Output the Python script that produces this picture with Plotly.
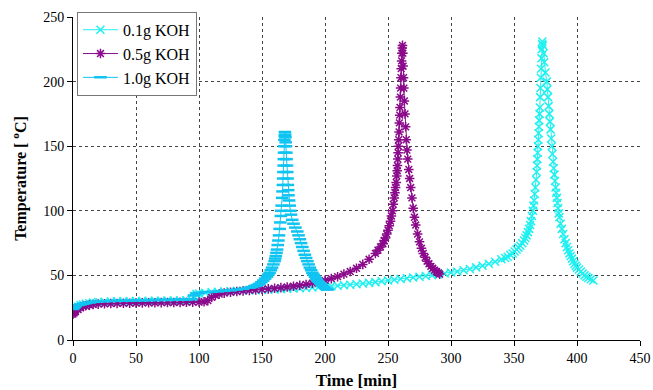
import plotly.graph_objects as go

# 0.1g KOH
t01 = [0, 1, 2, 4, 6, 8, 10, 13, 16, 20, 25, 30, 35, 40, 45, 50, 55, 60, 65, 70, 75, 80, 85, 90, 94, 96, 98,
       100, 105, 110, 115, 120, 125, 130, 135, 140, 145, 150, 155, 160, 165, 170, 175, 180, 185, 190, 195,
       200, 205, 210, 215, 220, 225, 230, 235, 240, 245, 250, 255, 260, 265, 270, 275, 280, 285, 290, 295,
       300, 305, 310, 315, 320, 325, 330, 335, 340, 343, 345, 347, 349, 350.5, 352, 353.5, 355, 356.5, 358,
       359, 360, 361, 362, 362.8, 363.5, 364.2, 365, 365.5, 366, 366.5, 367, 367.5, 368, 368.3, 368.5, 368.8,
       369, 369.3, 369.5, 369.8, 370, 370.3, 370.5, 370.8, 371, 371.3, 371.5, 371.8, 372, 372.3, 372.5,
       373, 373.5, 374, 375, 376, 376.5, 377, 377.5, 378, 378.5, 379, 379.5, 380, 380.5, 381, 381.5, 382,
       382.5, 383, 383.5, 384, 384.5, 385, 385.5, 386, 387, 388, 389, 390, 391, 392, 393, 394, 395, 396, 397,
       398, 399, 400, 401.5, 403, 404.5, 406, 407.5, 409, 411, 413]
T01 = [23, 24, 25, 26, 27, 27.5, 28, 28.5, 29, 29.3, 29.6, 29.8, 30, 30, 30, 30.2, 30.2, 30.3, 30.3, 30.4, 30.5,
       30.5, 30.6, 30.7, 31, 34, 35.5,
       36, 36.5, 37, 37.3, 37.6, 37.8, 38, 38.2, 38.4, 38.6, 38.8, 39, 39.2, 39.4, 39.6, 39.8, 40, 40.3, 40.6, 41,
       41.3, 41.7, 42, 42.4, 42.8, 43.2, 43.7, 44.2, 44.8, 45.4, 46, 46.6, 47.2, 47.8, 48.4, 49, 49.6, 50.2, 50.8,
       51.5, 52.2, 53, 54, 55, 56.2, 57.5, 59, 60.5, 62.5, 63.5, 64.5, 66, 67, 68.5, 70, 71.5, 73, 75, 77,
       79, 81, 83.5, 86, 89, 92, 96, 100, 104, 108, 113, 118, 124, 130, 135, 140, 145,
       150, 155, 160, 165, 170, 175, 180, 188, 195, 203, 210, 218, 225, 229, 231,
       228, 222, 215, 207, 200, 194, 188, 181, 175, 169, 163, 156, 150, 144, 138, 133, 128,
       123, 118, 114, 110, 106, 102, 98, 95, 90, 86, 82, 78, 75, 72, 69.5, 67, 65, 63, 61,
       59, 57.5, 56, 54.5, 53, 51.5, 50, 49, 48, 47, 46]

# 0.5g KOH
t05 = [0, 1, 2, 4, 6, 8, 10, 13, 16, 20, 25, 30, 35, 40, 45, 50, 55, 60, 65, 70, 75, 80, 85, 90, 95, 100, 104,
       107, 110, 113, 116, 120, 125, 130, 135, 140, 145, 150, 155, 160, 165, 170, 175, 180, 185, 190, 195, 200,
       205, 210, 215, 220, 225, 230, 235, 240, 242, 244, 246, 247, 248, 249, 250, 251, 252, 252.7, 253.5, 254.2,
       255, 255.5, 256, 256.5, 257, 257.3, 257.5, 257.8, 258, 258.3, 258.5, 258.8, 259, 259.3, 259.5, 259.8,
       260, 260.3, 260.5, 260.8, 261, 261.3, 261.5,
       261.8, 262, 262.3, 262.6, 263, 263.5, 264, 264.5, 265, 265.7, 266.5, 267.2, 268, 269, 270, 271, 272,
       273.5, 275, 276.5, 278, 279.5, 281, 282.5, 284, 285.5, 287, 288.5, 290, 291]
T05 = [20, 21, 22, 23.5, 25, 26, 26.5, 27, 27.5, 27.8, 28, 28.2, 28.3, 28.4, 28.5, 28.6, 28.7, 28.8, 28.8, 28.9,
       29, 29, 29.1, 29.2, 29.3, 29.4, 29.6,
       30.5, 33, 34.5, 35.5, 36.3, 37, 37.5, 38, 38.4, 38.8, 39.2, 39.6, 40, 40.5, 41, 41.6, 42.3, 43, 44, 45, 46.2,
       47.5, 49, 51, 53, 55.5, 58.5, 62.5, 67, 69.5, 72, 74.5, 77, 79, 82, 85, 88.5, 92, 96, 100, 105,
       110, 114, 118, 122, 127, 131, 135, 140, 145, 150, 155, 161, 168, 174, 180, 188,
       195, 203, 210, 216, 222, 226, 228,
       222, 212, 203, 195, 185, 175, 165, 155, 147, 140, 132, 125, 118, 110, 102, 95, 89,
       82, 76, 71, 67, 64, 61, 59, 57, 55.5, 54, 53, 52, 51]

# 1.0g KOH
t10 = [0, 1, 2, 4, 6, 8, 10, 13, 16, 20, 25, 30, 35, 40, 45, 50, 55, 60, 65, 70, 75, 80, 85, 90, 94, 96, 98,
       100, 105, 110, 115, 120, 125, 130, 135, 140, 142, 144, 145, 146.5, 148, 149.5, 151, 152.5, 154, 155, 156,
       157, 158, 159, 160, 160.5, 161, 161.5, 162, 162.5, 163, 163.5, 164, 164.5, 165, 165.3, 165.6, 166, 166.3,
       166.6, 166.8, 167, 167.2, 167.3, 167.5, 167.6, 167.8, 168, 168.2, 168.4, 168.6, 168.8, 169, 169.3, 169.5,
       169.8, 170, 170.3, 170.5, 170.8, 171, 171.5, 172, 172.5, 173, 174, 175, 176.5, 178, 179, 180, 181, 182,
       183, 184, 185, 186, 187, 188, 189, 190, 191, 192, 193, 194, 195, 196, 197, 198, 199, 200, 201, 202]
T10 = [24, 25, 26, 27, 27.5, 28, 28.5, 29, 29.5, 29.8, 30, 30.2, 30.3, 30.4, 30.5, 30.6, 30.7, 30.8, 30.9, 31, 31,
       31.1, 31.2, 31.3, 31.5, 34.5, 36,
       36.5, 37, 37.3, 37.6, 38, 38.4, 39, 39.6, 40.5, 41, 41.7, 42, 42.7, 43.5, 44.7, 46, 47.5, 49, 50.5, 52,
       54, 56, 58.5, 61, 63, 65, 67.5, 70, 73.5, 77, 81, 86, 91, 96, 100, 104, 110, 115,
       120, 125, 130, 135, 140, 145, 150, 155, 158, 161, 159, 157, 153, 150, 145, 140,
       135, 130, 125, 120, 116, 112, 108, 104, 100, 97, 93, 90, 87, 84, 81, 78, 75, 72,
       69, 66, 63.5, 61, 58.5, 56, 54, 52, 50.5, 49, 47.5, 46, 45, 44, 43, 42, 41, 40, 39.5, 39]

x_ticks = [0, 50, 100, 150, 200, 250, 300, 350, 400, 450]
y_ticks = [0, 50, 100, 150, 200, 250]

serif = "Liberation Serif, Times New Roman, serif"

fig = go.Figure()
fig.add_trace(go.Scatter(x=t01, y=T01, name="0.1g KOH", mode="lines+markers",
                         line=dict(color="#1EF0F0", width=1),
                         marker=dict(symbol="x-thin-open", size=8, line=dict(color="#1EF0F0", width=1.5))))
fig.add_trace(go.Scatter(x=t05, y=T05, name="0.5g KOH", mode="lines+markers",
                         line=dict(color="#8B0A8B", width=1),
                         marker=dict(symbol="asterisk-open", size=8, line=dict(color="#8B0A8B", width=1.5))))
fig.add_trace(go.Scatter(x=t10, y=T10, name="1.0g KOH", mode="lines+markers",
                         line=dict(color="#10C4F2", width=1),
                         marker=dict(symbol="line-ew-open", size=9, line=dict(color="#10C4F2", width=2.5))))

axis_common = dict(showline=True, linecolor="black", linewidth=1, ticks="outside", ticklen=5,
                   tickcolor="black", showgrid=True, gridcolor="#444444", griddash="3px,3px", gridwidth=1,
                   zeroline=False, automargin=False, tickfont=dict(family=serif, size=14, color="black"))

fig.update_layout(
    width=653, height=390,
    margin=dict(l=73, r=13, t=17, b=50),
    paper_bgcolor="white", plot_bgcolor="white",
    xaxis=dict(range=[0, 450], tickvals=x_ticks,
               title=dict(text="<b>Time [min]</b>", font=dict(family=serif, size=17, color="black"), standoff=12),
               **axis_common),
    yaxis=dict(range=[0, 250], tickvals=y_ticks,
               title=dict(text="<b>Temperature [ <sup>o</sup>C]</b>", font=dict(family=serif, size=16, color="black"),
                          standoff=12),
               **axis_common),
    legend=dict(x=0.007, y=1.016, xanchor="left", yanchor="top", bgcolor="white", bordercolor="#777777",
                borderwidth=1, font=dict(family=serif, size=16, color="black"), tracegroupgap=0,
                itemwidth=35),
    showlegend=True,
)

fig.write_html("out.html")
